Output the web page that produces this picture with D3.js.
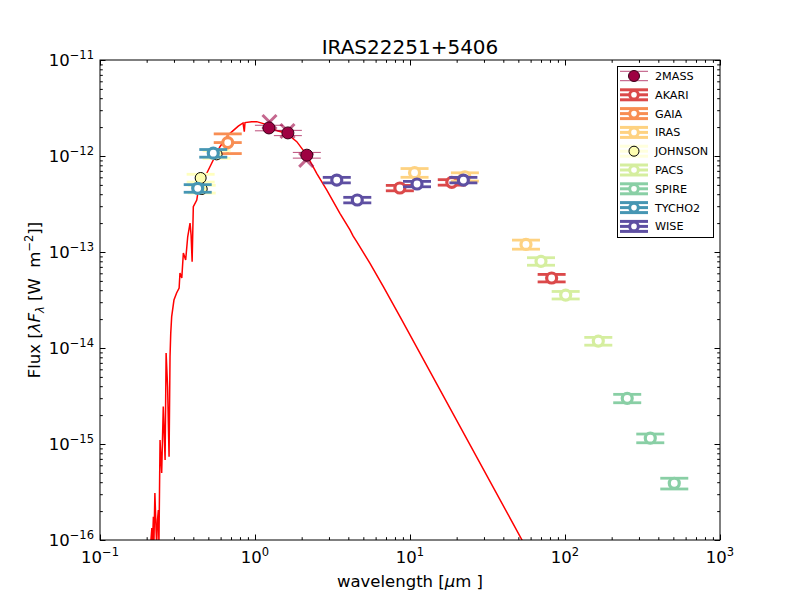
<!DOCTYPE html>
<html>
<head>
<meta charset="utf-8">
<script src="https://cdn.jsdelivr.net/npm/d3@7"></script>
<style>
  body { margin: 0; background: #fff; }
  text { font-family: "DejaVu Sans", sans-serif; fill: #000; white-space: pre; }
</style>
</head>
<body>
<div id="chart"></div>
<script>
// survey names in legend order
const surveys = ["2MASS", "AKARI", "GAIA", "IRAS", "JOHNSON", "PACS", "SPIRE", "TYCHO2", "WISE"];

// photometry rows: [wavelength um, flux W m-2, flux error]
const pts2MASS = [[1.23, 1.96e-12, 0.13e-12], [1.63, 1.74e-12, 0.11e-12], [2.16, 1.02e-12, 0.07e-12]];
const ptsAKARI = [[8.6, 4.64e-13, 0.3e-13], [18.6, 5.32e-13, 0.35e-13], [82, 5.36e-14, 0.48e-14]];
const ptsGAIA = [[0.667, 1.38e-12, 0.32e-12]];
const ptsIRAS = [[10.7, 6.7e-13, 0.7e-13], [22.6, 6.08e-13, 0.6e-13], [56, 1.2e-13, 0.13e-13]];
const ptsJOHNSON = [[0.446, 5.9e-13, 0.55e-13], [0.453, 4.53e-13, 0.42e-13], [0.565, 1.04e-12, 0.95e-13]];
const ptsPACS = [[70, 8.0e-14, 0.72e-14], [101, 3.56e-14, 0.32e-14], [164, 1.18e-14, 0.11e-14]];
const ptsSPIRE = [[252, 2.99e-15, 0.3e-15], [355, 1.15e-15, 0.12e-15], [507, 3.9e-16, 0.5e-16]];
const ptsTYCHO2 = [[0.427, 4.61e-13, 0.42e-13], [0.538, 1.07e-12, 0.98e-13]];
const ptsWISE = [[3.37, 5.62e-13, 0.37e-13], [4.57, 3.48e-13, 0.23e-13], [11.1, 5.11e-13, 0.33e-13], [22.1, 5.62e-13, 0.37e-13]];

// synthetic model photometry at the 2MASS bands (x marks)
const synthWave = [1.24, 1.62, 2.14];
const synthFlux = [2.26e-12, 1.82e-12, 9.1e-13];

// model spectrum
const modelWave = [0.212, 0.216, 0.218, 0.221, 0.223, 0.226, 0.230, 0.232, 0.235, 0.238, 0.240,
  0.244, 0.250, 0.256, 0.263, 0.267, 0.273, 0.276, 0.279, 0.283, 0.286, 0.290, 0.300, 0.312,
  0.324, 0.328, 0.337, 0.345, 0.357, 0.368, 0.381, 0.387, 0.393, 0.400, 0.421, 0.431, 0.476,
  0.538, 0.594, 0.673, 0.780, 0.837, 0.853, 0.862, 0.952, 1.026, 1.16, 1.25, 1.41, 1.60, 1.86,
  2.16, 2.50, 2.90, 3.53, 4.10, 4.29, 4.53, 5.52, 6.73, 8.85, 52.8, 55.2];
const modelFlux = [8.9e-17, 1.33e-16, 8.9e-17, 1.75e-16, 1.0e-16, 3.09e-16, 1.27e-16, 8.9e-17, 1.62e-16,
  2.05e-16, 8.9e-17, 1.10e-15, 4.99e-16, 2.45e-15, 6.8e-16, 8.87e-15, 3.95e-15, 1.65e-15, 7.38e-16,
  8.11e-15, 1.42e-14, 2.12e-14, 3.16e-14, 3.74e-14, 4.22e-14, 6.04e-14, 5.36e-14, 9.77e-14, 8.25e-14,
  1.44e-13, 2.00e-13, 1.50e-13, 7.93e-14, 2.96e-13, 3.48e-13, 4.43e-13, 6.08e-13, 9.08e-13, 1.25e-12,
  1.66e-12, 2.05e-12, 2.21e-12, 1.79e-12, 2.23e-12, 2.28e-12, 2.28e-12, 2.15e-12, 1.95e-12, 1.82e-12,
  1.72e-12, 1.41e-12, 1.02e-12, 6.61e-13, 4.43e-13, 2.53e-13, 1.70e-13, 1.47e-13, 1.28e-13, 7.62e-14,
  4.36e-14, 1.96e-14, 1.0e-16, 8.66e-17];

const xMajor = [0.1, 1, 10, 100, 1000];
const xLabels = ["−1", "0", "1", "2", "3"];
const yMajor = [1e-16, 1e-15, 1e-14, 1e-13, 1e-12, 1e-11];
const yLabels = ["−16", "−15", "−14", "−13", "−12", "−11"];

const W = 800, H = 600;
const margin = { left: 100, right: 80, top: 60, bottom: 60 };
const capHalf = 14;

const svg = d3.select('#chart').append('svg').attr('width', W).attr('height', H);

const x = d3.scaleLog().domain([0.1, 1000]).range([margin.left, W - margin.right]);
const y = d3.scaleLog().domain([1e-16, 1e-11]).range([H - margin.bottom, margin.top]);

const color = d3.scaleOrdinal().domain(surveys)
  .range(surveys.map((s, i) => d3.interpolateSpectral(i / (surveys.length - 1))));

svg.append('defs').append('clipPath').attr('id', 'plotclip')
  .append('rect')
  .attr('x', x.range()[0]).attr('y', y.range()[1])
  .attr('width', x.range()[1] - x.range()[0]).attr('height', y.range()[0] - y.range()[1]);

const plot = svg.append('g').attr('clip-path', 'url(#plotclip)');

// model line
const model = modelWave.map((w, i) => [w, modelFlux[i]]);
plot.append('path')
  .datum(model)
  .attr('fill', 'none')
  .attr('stroke', '#ff0000')
  .attr('stroke-width', 1.5)
  .attr('d', d3.line().x(d => x(d[0])).y(d => y(d[1])));

const photometry = [
  { name: "2MASS", rows: pts2MASS },
  { name: "AKARI", rows: ptsAKARI },
  { name: "GAIA", rows: ptsGAIA, band: true },
  { name: "IRAS", rows: ptsIRAS },
  { name: "JOHNSON", rows: ptsJOHNSON },
  { name: "PACS", rows: ptsPACS },
  { name: "SPIRE", rows: ptsSPIRE },
  { name: "TYCHO2", rows: ptsTYCHO2 },
  { name: "WISE", rows: ptsWISE }
];

// model photometry crosses under the 2MASS points
const cross = plot.append('g').attr('stroke', color("2MASS")).attr('stroke-opacity', 0.6).attr('stroke-width', 3);
synthWave.forEach((w, i) => {
  const cx = x(w), cy = y(synthFlux[i]);
  cross.append('line').attr('x1', cx - 7).attr('y1', cy - 7).attr('x2', cx + 7).attr('y2', cy + 7);
  cross.append('line').attr('x1', cx + 7).attr('y1', cy - 7).attr('x2', cx - 7).attr('y2', cy + 7);
});

photometry.forEach(s => {
  const c = color(s.name);
  const g = plot.append('g');
  const thin = s.name === "2MASS";
  const lw = thin ? 1 : 2.8;
  const lineCol = s.name === "JOHNSON" ? "#ffffbf" : c;
  s.rows.forEach(r => {
    const cx = x(r[0]), cy = y(r[1]);
    const yt = y(r[1] + r[2]), yb = y(r[1] - r[2]);
    const eg = g.append('g').attr('stroke', lineCol).attr('stroke-width', lw)
      .attr('stroke-opacity', thin ? 0.7 : 1);
    eg.append('line').attr('x1', cx).attr('x2', cx).attr('y1', yt).attr('y2', yb);
    const rowsY = s.band ? [yt, cy, yb] : [yt, yb];
    rowsY.forEach(yy => {
      eg.append('line').attr('x1', cx - capHalf).attr('x2', cx + capHalf).attr('y1', yy).attr('y2', yy);
    });
  });
  s.rows.forEach(r => {
    const cx = x(r[0]), cy = y(r[1]);
    if (s.name === "2MASS") {
      g.append('circle').attr('cx', cx).attr('cy', cy).attr('r', 6)
        .attr('fill', c).attr('stroke', '#3a0018').attr('stroke-width', 1);
    } else if (s.name === "JOHNSON") {
      g.append('circle').attr('cx', cx).attr('cy', cy).attr('r', 5.5)
        .attr('fill', '#fdfdb0').attr('stroke', '#000').attr('stroke-width', 1);
    } else {
      g.append('circle').attr('cx', cx).attr('cy', cy).attr('r', 5)
        .attr('fill', '#fff').attr('stroke', c).attr('stroke-width', 3.2);
    }
  });
});

// ticks (inward, all four sides)
function minorTicks(majors) {
  const out = [];
  for (let i = 0; i < majors.length - 1; i++)
    for (let k = 2; k <= 9; k++) out.push(majors[i] * k);
  return out;
}
const xMinor = minorTicks(xMajor), yMinor = minorTicks(yMajor);
const tickGroups = [
  [d3.axisBottom(x), `translate(0,${y.range()[0]})`, xMajor, xMinor],
  [d3.axisTop(x), `translate(0,${y.range()[1]})`, xMajor, xMinor],
  [d3.axisLeft(y), `translate(${x.range()[0]},0)`, yMajor, yMinor],
  [d3.axisRight(y), `translate(${x.range()[1]},0)`, yMajor, yMinor]
];
tickGroups.forEach(([axis, tr, maj, min]) => {
  [[maj, 5.5], [min, 2.8]].forEach(([vals, len]) => {
    svg.append('g').attr('transform', tr)
      .call(axis.tickValues(vals).tickSize(-len).tickFormat(''))
      .call(g => g.select('.domain').remove())
      .call(g => g.selectAll('line').attr('stroke', '#000'));
  });
});

svg.append('rect')
  .attr('x', x.range()[0]).attr('y', y.range()[1])
  .attr('width', x.range()[1] - x.range()[0]).attr('height', y.range()[0] - y.range()[1])
  .attr('fill', 'none').attr('stroke', '#000').attr('stroke-width', 1);

// tick labels with superscripts
xMajor.forEach((v, i) => {
  const t = svg.append('text').attr('x', x(v)).attr('y', y.range()[0] + 23)
    .attr('text-anchor', 'middle').attr('font-size', 16.5);
  t.append('tspan').text('10');
  t.append('tspan').attr('dy', -7).attr('font-size', 11.5).text(xLabels[i]);
});
yMajor.forEach((v, i) => {
  const t = svg.append('text').attr('x', x.range()[0] - 6).attr('y', y(v) + 6)
    .attr('text-anchor', 'end').attr('font-size', 16.5);
  t.append('tspan').text('10');
  t.append('tspan').attr('dy', -7).attr('font-size', 11.5).text(yLabels[i]);
});

// title and axis labels
svg.append('text').attr('x', 410).attr('y', 54).attr('text-anchor', 'middle')
  .attr('font-size', 20).text('IRAS22251+5406');

const xl = svg.append('text').attr('x', 410).attr('y', 587).attr('text-anchor', 'middle').attr('font-size', 16.5);
xl.append('tspan').text('wavelength [');
xl.append('tspan').attr('font-style', 'italic').text('μ');
xl.append('tspan').text('m ]');

const yl = svg.append('text').attr('transform', 'translate(40,300) rotate(-90)')
  .attr('text-anchor', 'middle').attr('font-size', 16.5);
yl.append('tspan').text('Flux [');
yl.append('tspan').attr('font-style', 'italic').text('λF');
yl.append('tspan').attr('font-style', 'italic').attr('dy', 4).attr('font-size', 11.5).text('λ');
yl.append('tspan').attr('dy', -4).text(' [W  m');
yl.append('tspan').attr('dy', -7).attr('font-size', 11.5).text('−2');
yl.append('tspan').attr('dy', 7).text(']]');

// legend
const lg = svg.append('g');
lg.append('rect').attr('x', 617.5).attr('y', 66.5).attr('width', 96).attr('height', 171)
  .attr('fill', '#fff').attr('stroke', '#000').attr('stroke-width', 1);
surveys.forEach((name, i) => {
  const cy = 76 + i * 18.8;
  const c = color(name);
  const e = lg.append('g');
  if (name === "2MASS") {
    [cy - 4.7, cy + 4.7].forEach(yy =>
      e.append('line').attr('x1', 620).attr('x2', 648).attr('y1', yy).attr('y2', yy)
        .attr('stroke', c).attr('stroke-opacity', 0.7).attr('stroke-width', 1));
    e.append('circle').attr('cx', 634).attr('cy', cy).attr('r', 5.5)
      .attr('fill', c).attr('stroke', '#3a0018').attr('stroke-width', 1);
  } else if (name === "JOHNSON") {
    [cy - 5, cy, cy + 5].forEach(yy =>
      e.append('line').attr('x1', 620).attr('x2', 648).attr('y1', yy).attr('y2', yy)
        .attr('stroke', '#ffffdd').attr('stroke-width', 3));
    e.append('circle').attr('cx', 634).attr('cy', cy).attr('r', 5)
      .attr('fill', '#fdfdb0').attr('stroke', '#000').attr('stroke-width', 1);
  } else {
    [cy - 5, cy, cy + 5].forEach(yy =>
      e.append('line').attr('x1', 620).attr('x2', 648).attr('y1', yy).attr('y2', yy)
        .attr('stroke', c).attr('stroke-width', 3));
    e.append('circle').attr('cx', 634).attr('cy', cy).attr('r', 4.3)
      .attr('fill', '#fff').attr('stroke', c).attr('stroke-width', 3);
  }
  lg.append('text').attr('x', 655).attr('y', cy + 4).attr('font-size', 11.2).text(name);
});
</script>
</body>
</html>
